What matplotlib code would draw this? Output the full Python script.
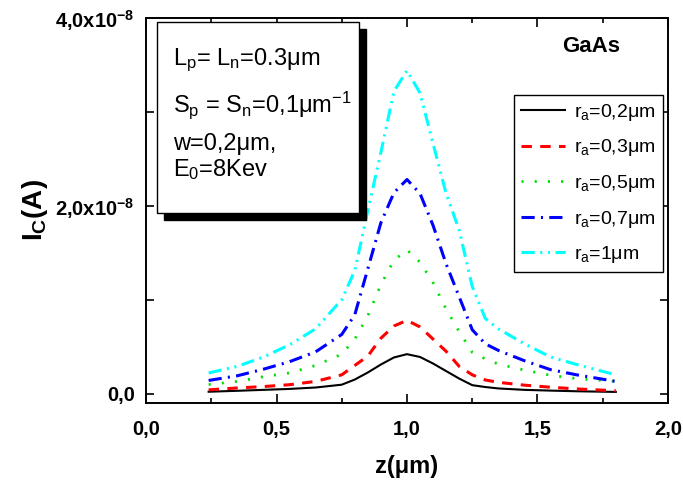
import numpy as np
import matplotlib
matplotlib.use("Agg")
import matplotlib.pyplot as plt
from matplotlib.patches import Rectangle
from matplotlib.ticker import FixedLocator, MultipleLocator

plt.rcParams['font.family'] = ['Liberation Sans', 'DejaVu Sans']
plt.rcParams['mathtext.fontset'] = 'custom'
plt.rcParams['mathtext.rm'] = 'Liberation Sans'
plt.rcParams['mathtext.it'] = 'Liberation Sans'
plt.rcParams['mathtext.bf'] = 'Liberation Sans:bold'
plt.rcParams['lines.scale_dashes'] = False

# data (current in units of 1e-8 A)
z = [0.24, 0.35, 0.45, 0.55, 0.65, 0.75, 0.8, 0.85, 0.9, 0.95, 1.0,
     1.05, 1.1, 1.15, 1.2, 1.25, 1.3, 1.35, 1.45, 1.55, 1.65, 1.8]
ic_02 = [0.02, 0.03, 0.04, 0.05, 0.065, 0.095, 0.15, 0.225, 0.31, 0.385, 0.42,
         0.39, 0.32, 0.24, 0.16, 0.09, 0.07, 0.055, 0.04, 0.032, 0.025, 0.018]
ic_03 = [0.04, 0.06, 0.075, 0.095, 0.13, 0.2, 0.3, 0.4, 0.59, 0.72, 0.78,
         0.71, 0.58, 0.45, 0.29, 0.2, 0.145, 0.12, 0.09, 0.068, 0.05, 0.03]
ic_05 = [0.096, 0.13, 0.18, 0.22, 0.30, 0.42, 0.58, 0.83, 1.16, 1.42, 1.53,
         1.40, 1.18, 0.90, 0.66, 0.44, 0.37, 0.315, 0.25, 0.195, 0.16, 0.13]
ic_07 = [0.14, 0.19, 0.26, 0.34, 0.445, 0.63, 0.84, 1.33, 1.82, 2.14, 2.28,
         2.13, 1.79, 1.38, 1.03, 0.68, 0.53, 0.46, 0.35, 0.255, 0.20, 0.13]
ic_10 = [0.22, 0.29, 0.39, 0.52, 0.69, 1.0, 1.31, 1.95, 2.57, 3.22, 3.44,
         3.2, 2.66, 2.13, 1.74, 1.14, 0.8, 0.69, 0.53, 0.39, 0.31, 0.2]
labels = ['r$_\\mathrm{a}$=0,2μm', 'r$_\\mathrm{a}$=0,3μm', 'r$_\\mathrm{a}$=0,5μm',
          'r$_\\mathrm{a}$=0,7μm', 'r$_\\mathrm{a}$=1μm']
colors = ['black', 'red', '#00e000', 'blue', 'cyan']
styles = ['-', (0, (7.5, 6)), (0, (1.5, 8)), (0, (9.5, 4.5, 1.5, 4.5)),
          (0, (9.5, 4, 1.5, 4, 1.5, 4))]
widths = [1.5, 2.2, 2.0, 2.2, 2.2]

xticks = [0.0, 0.5, 1.0, 1.5, 2.0]
xticklabels = ['0,0', '0,5', '1,0', '1,5', '2,0']
yticks = [0.0, 2e-8, 4e-8]
yticklabels = ['0,0', '2,0x10$^\\mathbf{-8}$', '4,0x10$^\\mathbf{-8}$']

fig = plt.figure(figsize=(6.83, 4.84), dpi=100)
ax = fig.add_axes([146/683, 1-403/484, 522/683, 385/484])

series = [ic_02, ic_03, ic_05, ic_07, ic_10]
for vals, lab, c, ls, lw in zip(series, labels, colors, styles, widths):
    ax.plot(z, np.array(vals)*1e-8, color=c, linestyle=ls, linewidth=lw, label=lab)

ax.set_xlim(0, 2.0)
ax.set_ylim(-0.1e-8, 4.0e-8)
ax.xaxis.set_major_locator(FixedLocator(xticks))
ax.set_xticklabels(xticklabels)
ax.xaxis.set_minor_locator(MultipleLocator(0.25))
ax.yaxis.set_major_locator(FixedLocator(yticks))
ax.set_yticklabels(yticklabels)
ax.yaxis.set_minor_locator(MultipleLocator(1e-8))

for lab in ax.get_xticklabels() + ax.get_yticklabels():
    lab.set_fontweight('bold')
    lab.set_fontsize(14.5)

ax.tick_params(axis='both', which='both', direction='in', top=True, right=True, width=1.2)
ax.tick_params(axis='x', which='major', length=6.5, pad=12)
ax.tick_params(axis='x', which='minor', length=3.5)
ax.tick_params(axis='y', which='major', length=5.5, pad=8)
ax.tick_params(axis='y', which='minor', length=5.5)
for sp in ax.spines.values():
    sp.set_linewidth(1.4)

ax.set_xlabel('z(μm)', fontsize=17, fontweight='bold', labelpad=12)
ax.set_ylabel('I$_\\mathbf{C}$(A)', fontsize=20, fontweight='bold', labelpad=4)

leg = ax.legend(loc='upper right', bbox_to_anchor=(0.997, 0.81), fontsize=14,
                frameon=True, fancybox=False, edgecolor='black', framealpha=1,
                handlelength=2.3, labelspacing=0.75, borderpad=0.35, handletextpad=0.45,
                borderaxespad=0.2)
leg.get_frame().set_linewidth(1.0)

# annotation box with shadow
x0, x1 = (157-146)/522, (359-146)/522
y1, y0 = 1-(22-18)/385, 1-(213-18)/385
dx, dy = 7/522, 7/385
ax.add_patch(Rectangle((x0+dx, y0-dy), x1-x0, y1-y0, transform=ax.transAxes,
                       facecolor='black', edgecolor='black', zorder=5, clip_on=False))
ax.add_patch(Rectangle((x0, y0), x1-x0, y1-y0, transform=ax.transAxes,
                       facecolor='white', edgecolor='black', linewidth=1.0,
                       zorder=6, clip_on=False))
tx = (173-146)/522
box_lines = ['L$_\\mathrm{p}$= L$_\\mathrm{n}$=0.3μm',
             'S$_\\mathrm{p}$ = S$_\\mathrm{n}$=0,1μm$^{-1}$',
             'w=0,2μm,',
             'E$_\\mathrm{0}$=8Kev']
baselines = [65, 112, 150, 176]
for t, b in zip(box_lines, baselines):
    ax.text(tx, 1-(b-18)/385, t, transform=ax.transAxes, fontsize=17,
            ha='left', va='baseline', zorder=7)

ax.text((591-146)/522, 1-(47-18)/385, 'GaAs', transform=ax.transAxes,
        fontsize=16, fontweight='bold', ha='center', va='center')

fig.savefig('out.png', dpi=100)
